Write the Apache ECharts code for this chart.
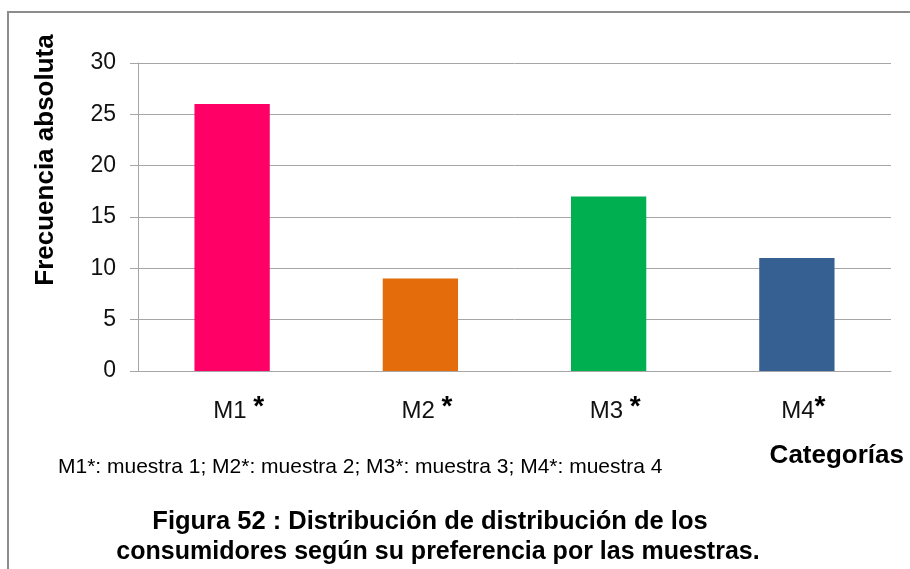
<!DOCTYPE html>
<html>
<head>
<meta charset="utf-8">
<script src="https://cdn.jsdelivr.net/npm/echarts@6/dist/echarts.min.js"></script>
<style>
  html, body { margin: 0; padding: 0; background: #fff; }
  #chart { width: 910px; height: 569px; }
</style>
</head>
<body>
<div id="chart"></div>
<script>
// Sample categories (the asterisk is drawn as a bold superscript)
const categories = ['M1 *', 'M2 *', 'M3 *', 'M4*'];
// Absolute frequency of consumers preferring each sample
const frequencies = [26, 9, 17, 11];
const barColors = ['#FF0066', '#E46C0A', '#00B050', '#376092'];
const yTicks = { min: 0, max: 30, interval: 5 };

const yAxisTitle = 'Frecuencia absoluta';
const xAxisTitle = 'Categorías';
const footnote = 'M1*: muestra 1; M2*: muestra 2; M3*: muestra 3; M4*: muestra 4';
const captionLines = [
  'Figura 52 : Distribución de distribución de los',
  'consumidores según su preferencia por las muestras.'
];

const FONT = '"Liberation Sans", Arial, sans-serif';

const chart = echarts.init(document.getElementById('chart'), null, { renderer: 'canvas' });

chart.setOption({
  backgroundColor: '#ffffff',
  animation: false,
  grid: { left: 138, right: 19, top: 63, bottom: 198, containLabel: false },
  xAxis: {
    type: 'category',
    data: categories,
    axisLine: { show: true, lineStyle: { color: '#a6a6a6', width: 1 } },
    axisTick: { show: false },
    axisLabel: {
      margin: 22,
      padding: [0, 0, 0, 13],
      formatter: function (v) {
        const i = v.indexOf('*');
        return '{m|' + v.slice(0, i) + '}{s|*}';
      },
      rich: {
        m: { fontFamily: FONT, fontSize: 24, color: '#111', verticalAlign: 'bottom', lineHeight: 30 },
        s: { fontFamily: FONT, fontSize: 28, fontWeight: 'bold', color: '#000', verticalAlign: 'top', lineHeight: 30, padding: [0, 0, 12, 0] }
      }
    }
  },
  yAxis: {
    type: 'value',
    min: yTicks.min,
    max: yTicks.max,
    interval: yTicks.interval,
    axisLine: { show: true, lineStyle: { color: '#a6a6a6', width: 1 } },
    axisTick: { show: true, length: 8, lineStyle: { color: '#a6a6a6' } },
    splitLine: { show: true, lineStyle: { color: '#a6a6a6', width: 1 } },
    axisLabel: { margin: 22, fontFamily: FONT, fontSize: 23, color: '#111' }
  },
  series: [{
    type: 'bar',
    data: frequencies.map((v, i) => ({ value: v, itemStyle: { color: barColors[i] } })),
    barWidth: '40%'
  }],
  graphic: [
    {
      type: 'rect',
      shape: { x: 8, y: 12, width: 920, height: 620 },
      style: { fill: 'none', stroke: '#8c8c8c', lineWidth: 2 },
      silent: true
    },
    {
      type: 'text',
      x: 46, y: 160,
      rotation: Math.PI / 2,
      style: {
        text: yAxisTitle, fontFamily: FONT, fontSize: 26, fontWeight: 'bold',
        fill: '#000', align: 'center', verticalAlign: 'middle'
      }
    },
    {
      type: 'text',
      x: 904, y: 456,
      style: {
        text: xAxisTitle, fontFamily: FONT, fontSize: 26, fontWeight: 'bold',
        fill: '#000', align: 'right', verticalAlign: 'middle'
      }
    },
    {
      type: 'text',
      x: 58, y: 467,
      style: {
        text: footnote, fontFamily: FONT, fontSize: 21,
        fill: '#000', align: 'left', verticalAlign: 'middle'
      }
    },
    {
      type: 'text',
      x: 430, y: 522,
      style: {
        text: captionLines[0], fontFamily: FONT, fontSize: 25.5, fontWeight: 'bold',
        fill: '#000', align: 'center', verticalAlign: 'middle'
      }
    },
    {
      type: 'text',
      x: 438, y: 552,
      style: {
        text: captionLines[1], fontFamily: FONT, fontSize: 25, fontWeight: 'bold',
        fill: '#000', align: 'center', verticalAlign: 'middle'
      }
    }
  ]
});
</script>
</body>
</html>
